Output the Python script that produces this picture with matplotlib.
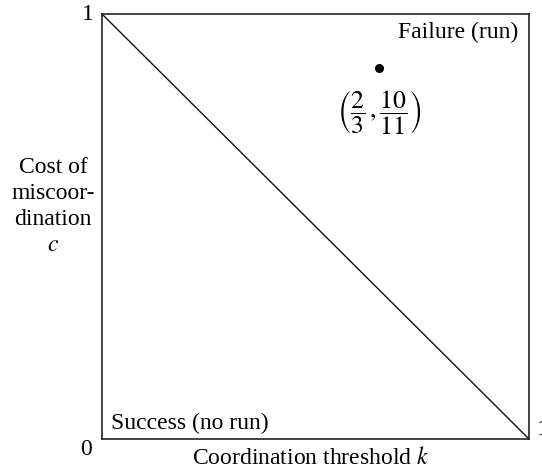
import matplotlib
matplotlib.use("Agg")
import matplotlib.pyplot as plt

plt.rcParams['font.family'] = ['Liberation Serif', 'DejaVu Serif']
plt.rcParams['mathtext.fontset'] = 'stix'

# data
boundary_k = [0.0, 1.0]
boundary_c = [1.0, 0.0]
point_k = [0.65]
point_c = [0.873]
point_label = r'$\left(\dfrac{2}{3}\,,\dfrac{10}{11}\right)$'
region_top = "Failure (run)"
region_bottom = "Success (no run)"
xlabel = "Coordination threshold $k$"
ylabel_lines = ["Cost of", "miscoor-", "dination", "$c$"]

fig = plt.figure(figsize=(5.42, 4.70), dpi=100)
ax = fig.add_axes([0.1882, 0.0670, 0.7869, 0.9032])
ax.set_xlim(0, 1)
ax.set_ylim(0, 1)
ax.set_xticks([])
ax.set_yticks([])
for s in ax.spines.values():
    s.set_linewidth(1.2)
    s.set_color('#222222')

ax.plot(boundary_k, boundary_c, color='#111111', lw=1.0)
ax.plot(point_k, point_c, 'o', color='black', ms=5.5)

fs = 17
ax.text(point_k[0], 0.7668, point_label, ha='center', va='center', fontsize=18.5)
ax.text(0.9754, 0.9435, region_top, ha='right', va='baseline', fontsize=fs)
ax.text(0.0204, 0.0224, region_bottom, ha='left', va='baseline', fontsize=fs)

T = ax.transAxes
ax.text(-0.034, 0.9859, "1", transform=T, ha='center', va='baseline', fontsize=fs, clip_on=False)
ax.text(-0.038, -0.0389, "0", transform=T, ha='center', va='baseline', fontsize=fs, clip_on=False)
ax.text(1.02, 0.0082, "1", transform=T, ha='left', va='baseline', fontsize=fs, clip_on=False)
ax.text(0.49, -0.060, xlabel, transform=T, ha='center', va='baseline', fontsize=fs, clip_on=False)
for yy, line in zip([0.6254, 0.5642, 0.5029, 0.4417], ylabel_lines):
    ax.text(-0.115, yy, line, transform=T, ha='center', va='baseline', fontsize=fs, clip_on=False)

fig.savefig("out.png", dpi=100)
